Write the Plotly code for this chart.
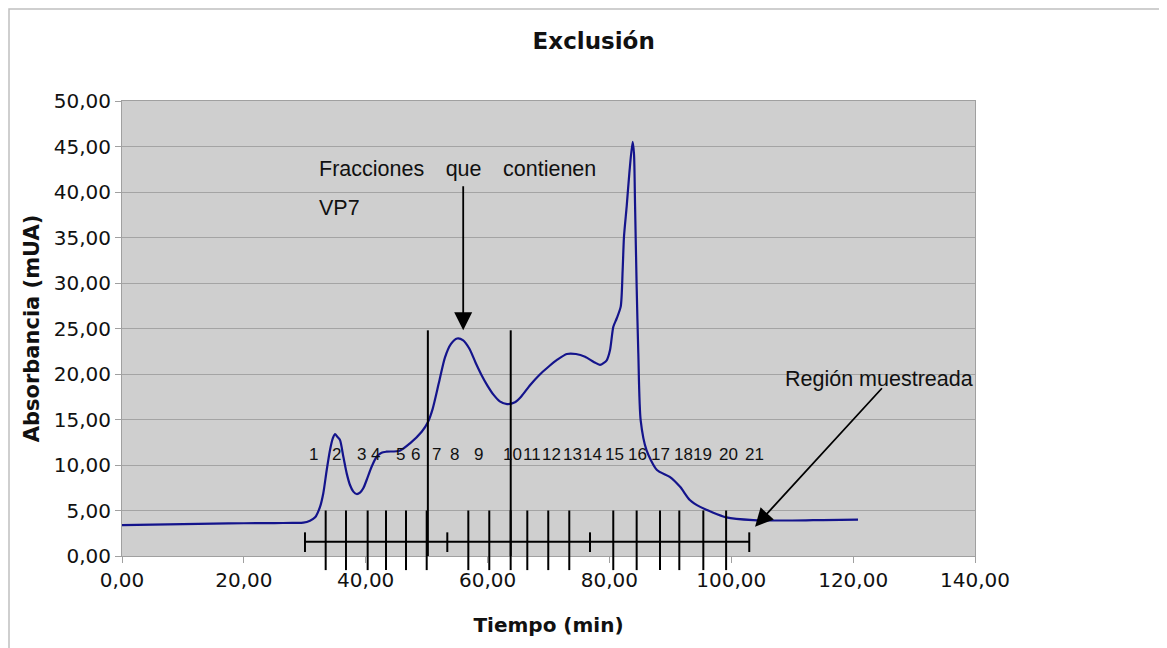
import plotly.graph_objects as go

# ---- data ----
tiempo = [0, 5, 10, 15, 20, 25, 28, 29.76, 30.86, 31.7, 32.5, 33.04, 33.6, 34.14, 34.58,
          34.96, 35.34, 35.78, 36.33, 36.88, 37.42, 37.97, 38.51, 39.06, 39.6, 40.15, 40.97,
          41.8, 42.6, 43.4, 45.6, 47.27, 49.19, 50.2, 51, 52, 53, 54, 55, 56, 57, 58, 59, 60,
          61, 62, 63.2, 64.5, 65.5, 67, 68.5, 70, 71.5, 73, 74.5, 76, 77.5, 78.45, 79.55,
          80.09, 80.64, 81.19, 81.85, 82.17, 82.39, 82.83, 83.26, 83.8, 84.03, 84.2, 84.47,
          84.74, 85.13, 86.1, 87.8, 89.9, 91.6, 93.2, 94.9, 99.2, 103.6, 110, 115, 120.8]
absorbancia = [3.4, 3.45, 3.5, 3.55, 3.6, 3.62, 3.64, 3.66, 3.88, 4.25, 5.4, 6.9, 9.45, 11.65,
               12.9, 13.4, 13.1, 12.75, 10.9, 9.08, 7.8, 7.07, 6.81, 6.96, 7.44, 8.35, 9.81,
               10.9, 11.35, 11.46, 11.57, 12.38, 13.66, 14.7, 16.2, 19.0, 21.8, 23.3, 23.9,
               23.7, 22.8, 21.3, 19.9, 18.7, 17.7, 17.0, 16.7, 16.9, 17.5, 18.8, 19.9, 20.8,
               21.6, 22.2, 22.2, 21.9, 21.3, 21.0, 21.5, 22.6, 25.2, 26.1, 27.4, 31.4, 35.1,
               38.4, 42.0, 45.5, 44.2, 38.8, 29.6, 22.3, 14.9, 11.6, 9.45, 8.7, 7.6, 6.15, 5.4,
               4.25, 3.95, 3.9, 3.95, 4.0]

fraccion_labels = [str(i) for i in range(1, 22)]
fraccion_label_x = [31.4, 35.24, 39.23, 41.6, 45.63, 48.09, 51.65, 54.49, 58.48, 64.17, 67.24,
                    70.57, 73.86, 77.14, 80.75, 84.61, 88.3, 92.15, 95.27, 99.61, 103.88]
fraccion_label_y = 11.15

fraccion_cortes = [33.43, 36.76, 40.32, 43.33, 46.61, 50.01, 56.84, 60.28, 63.79, 66.52,
                   69.96, 73.41, 80.63, 84.47, 88.3, 91.47, 95.41, 99.15]
corte_top = 5.0
corte_bottom = -1.55

region_start, region_end = 30.03, 102.95
region_y = 1.57
region_marks = [30.03, 53.39, 76.81, 102.95]
region_mark_low, region_mark_high = 0.44, 2.6

vp7_bounds = [50.2, 63.8]
vp7_top = 24.8

x_range = [0, 140]
y_range = [0, 50]
x_ticks = [0, 20, 40, 60, 80, 100, 120, 140]
y_ticks = [0, 5, 10, 15, 20, 25, 30, 35, 40, 45, 50]

# ---- figure ----
W, H = 1159, 640
ML, MR, MT, MB = 114, 192, 93, 92
PW, PH = W - ML - MR, H - MT - MB

fig = go.Figure()
fig.add_trace(go.Scatter(
    x=tiempo, y=absorbancia, mode="lines",
    line=dict(color="#14148c", width=2.2, shape="spline", smoothing=0.7),
    showlegend=False, hoverinfo="x+y"))

shapes = []
yspan = y_range[1] - y_range[0]
for xc in fraccion_cortes:
    shapes.append(dict(type="line", xref="x", yref="paper",
                       x0=xc, x1=xc,
                       y0=(corte_bottom - y_range[0]) / yspan,
                       y1=(corte_top - y_range[0]) / yspan,
                       line=dict(color="black", width=2)))
shapes.append(dict(type="line", xref="x", yref="y", x0=region_start, x1=region_end,
                   y0=region_y, y1=region_y, line=dict(color="black", width=2)))
for xm in region_marks:
    shapes.append(dict(type="line", xref="x", yref="y", x0=xm, x1=xm,
                       y0=region_mark_low, y1=region_mark_high,
                       line=dict(color="black", width=2)))
for xb in vp7_bounds:
    shapes.append(dict(type="line", xref="x", yref="y", x0=xb, x1=xb,
                       y0=0, y1=vp7_top, line=dict(color="black", width=2)))
# page border (top / left)
shapes.append(dict(type="rect", xref="paper", yref="paper",
                   x0=(1 - ML) / PW, x1=2, y0=-1, y1=(PH + MT - 1) / PH,
                   line=dict(color="#c0c0c0", width=1.5), layer="below"))

ann_family = "Liberation Sans, Arial, sans-serif"
ann_font = dict(family=ann_family, size=21.5, color="#111111")
annotations = []
for lab, xl in zip(fraccion_labels, fraccion_label_x):
    annotations.append(dict(x=xl, y=fraccion_label_y, xref="x", yref="y", text=lab,
                            showarrow=False, xanchor="center", yanchor="middle",
                            font=dict(family=ann_family, size=17, color="#111111")))
annotations.append(dict(x=32.0, y=42.5, xref="x", yref="y",
                        text="Fracciones\u2003que\u2003contienen",
                        showarrow=False, xanchor="left", yanchor="middle", font=ann_font))
annotations.append(dict(x=32.0, y=38.2, xref="x", yref="y", text="VP7",
                        showarrow=False, xanchor="left", yanchor="middle", font=ann_font))
annotations.append(dict(x=108.5, y=19.4, xref="x", yref="y", text="Región muestreada",
                        showarrow=False, xanchor="left", yanchor="middle", font=ann_font))
# arrows
annotations.append(dict(x=56.0, y=24.8, ax=56.0, ay=40.8, xref="x", yref="y",
                        axref="x", ayref="y", text="", showarrow=True,
                        arrowhead=2, arrowsize=2, arrowwidth=1.8, arrowcolor="black"))
annotations.append(dict(x=103.9, y=3.22, ax=124.95, ay=18.6, xref="x", yref="y",
                        axref="x", ayref="y", text="", showarrow=True,
                        arrowhead=2, arrowsize=2, arrowwidth=1.8, arrowcolor="black"))

dv = "DejaVu Sans, Verdana, sans-serif"
tick_font = dict(family=dv, size=20, color="#111111")

fig.update_layout(
    width=W, height=H,
    margin=dict(l=ML, r=MR, t=MT, b=MB, autoexpand=False),
    paper_bgcolor="white", plot_bgcolor="#cfcfcf",
    separators=",.",
    title=dict(text="<b>Exclusión</b>", x=585.7 / W, xref="container", xanchor="center",
               y=1 - 33 / H, yref="container", yanchor="middle",
               font=dict(family=dv, size=23, color="#111111")),
    xaxis=dict(range=x_range, tickvals=x_ticks, tickformat=".2f", showgrid=False,
               zeroline=False, showline=True, linecolor="#a0a0a0", linewidth=1, mirror=True,
               ticks="outside", ticklen=6, tickcolor="#a0a0a0", tickfont=tick_font,
               title=dict(text="<b>Tiempo (min)</b>", font=dict(family=dv, size=20, color="#111111"),
                          standoff=26)),
    yaxis=dict(range=y_range, tickvals=y_ticks, tickformat=".2f", showgrid=True,
               gridcolor="#a4a4a4", gridwidth=1, zeroline=False, showline=True,
               linecolor="#a0a0a0", linewidth=1, mirror=True,
               ticks="outside", ticklen=6, tickcolor="#a0a0a0", tickfont=tick_font,
               title=dict(text="<b>Absorbancia (mUA)</b>",
                          font=dict(family=dv, size=21, color="#111111"),
                          standoff=8)),
    shapes=shapes, annotations=annotations,
)

fig.write_html("out.html")
